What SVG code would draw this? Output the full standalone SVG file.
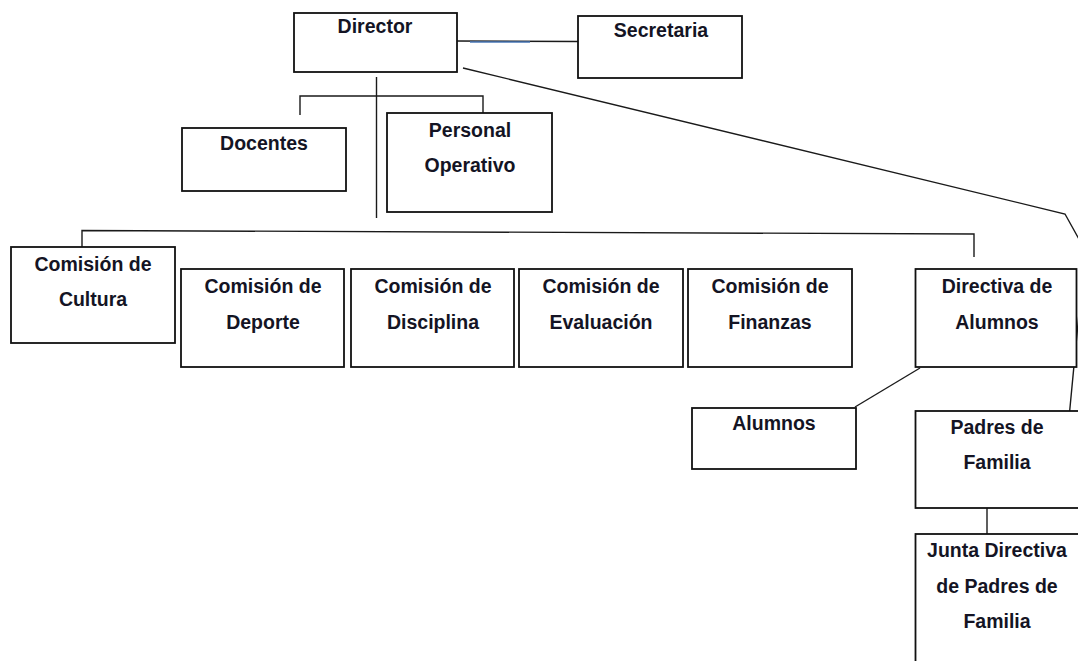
<svg xmlns="http://www.w3.org/2000/svg" width="1078" height="661" viewBox="0 0 1078 661">
<style>
.box{fill:#fff;stroke:#111;stroke-width:1.8}
.t{font-family:"Liberation Sans",Arial,sans-serif;font-weight:bold;font-size:19.5px;fill:#141424;text-anchor:middle}
.ln{fill:none;stroke:#1a1a1a;stroke-width:1.4}
</style>
<rect width="1078" height="661" fill="#fff"/>
<g id="connectors">
<line class="ln" x1="456" y1="41" x2="578" y2="41.5"/>
<line x1="470" y1="42" x2="530" y2="42" stroke="#4a78b8" stroke-width="1.3"/>
<line x1="578" y1="42" x2="588" y2="42" stroke="#4a78b8" stroke-width="1.3"/>
<polyline class="ln" points="463,68 1065,214 1085,250 1069,418"/>
<line class="ln" x1="376.5" y1="77" x2="376.5" y2="218"/>
<polyline class="ln" points="300,115 300,96 483,96 483,113"/>
<polyline class="ln" points="82,248 82,230.5 974,234 974,257"/>
<line class="ln" x1="920" y1="368" x2="855" y2="407"/>
<line class="ln" x1="987" y1="506" x2="987" y2="534"/>
</g>
<g id="director"><rect class="box" x="294" y="13" width="163" height="59"/><text class="t" x="375" y="33">Director</text></g>
<g id="secretaria"><rect class="box" x="578" y="16" width="164" height="62"/><text class="t" x="661" y="37">Secretaria</text></g>
<g id="docentes"><rect class="box" x="182" y="128" width="164" height="63"/><text class="t" x="264" y="150">Docentes</text></g>
<g id="personal"><rect class="box" x="387" y="113" width="165" height="99"/><text class="t" x="470" y="137">Personal</text><text class="t" x="470" y="172">Operativo</text></g>
<g id="cultura"><rect class="box" x="11" y="247" width="164" height="96"/><text class="t" x="93" y="271">Comisión de</text><text class="t" x="93" y="306">Cultura</text></g>
<g id="deporte"><rect class="box" x="181" y="269" width="163" height="98"/><text class="t" x="263" y="293">Comisión de</text><text class="t" x="263" y="329">Deporte</text></g>
<g id="disciplina"><rect class="box" x="351" y="269" width="163" height="98"/><text class="t" x="433" y="293">Comisión de</text><text class="t" x="433" y="329">Disciplina</text></g>
<g id="evaluacion"><rect class="box" x="519" y="269" width="164" height="98"/><text class="t" x="601" y="293">Comisión de</text><text class="t" x="601" y="329">Evaluación</text></g>
<g id="finanzas"><rect class="box" x="688" y="269" width="164" height="98"/><text class="t" x="770" y="293">Comisión de</text><text class="t" x="770" y="329">Finanzas</text></g>
<g id="directiva-alumnos"><rect class="box" x="915.5" y="269" width="161" height="98"/><text class="t" x="997" y="293">Directiva de</text><text class="t" x="997" y="329">Alumnos</text></g>
<g id="alumnos"><rect class="box" x="692" y="408" width="164" height="61"/><text class="t" x="774" y="430">Alumnos</text></g>
<g id="padres"><rect class="box" x="915.5" y="411" width="166" height="97"/><text class="t" x="997" y="434">Padres de</text><text class="t" x="997" y="469">Familia</text></g>
<g id="junta"><rect class="box" x="915.5" y="534" width="166" height="140"/><text class="t" x="997" y="557">Junta Directiva</text><text class="t" x="997" y="593">de Padres de</text><text class="t" x="997" y="628">Familia</text></g>
</svg>
